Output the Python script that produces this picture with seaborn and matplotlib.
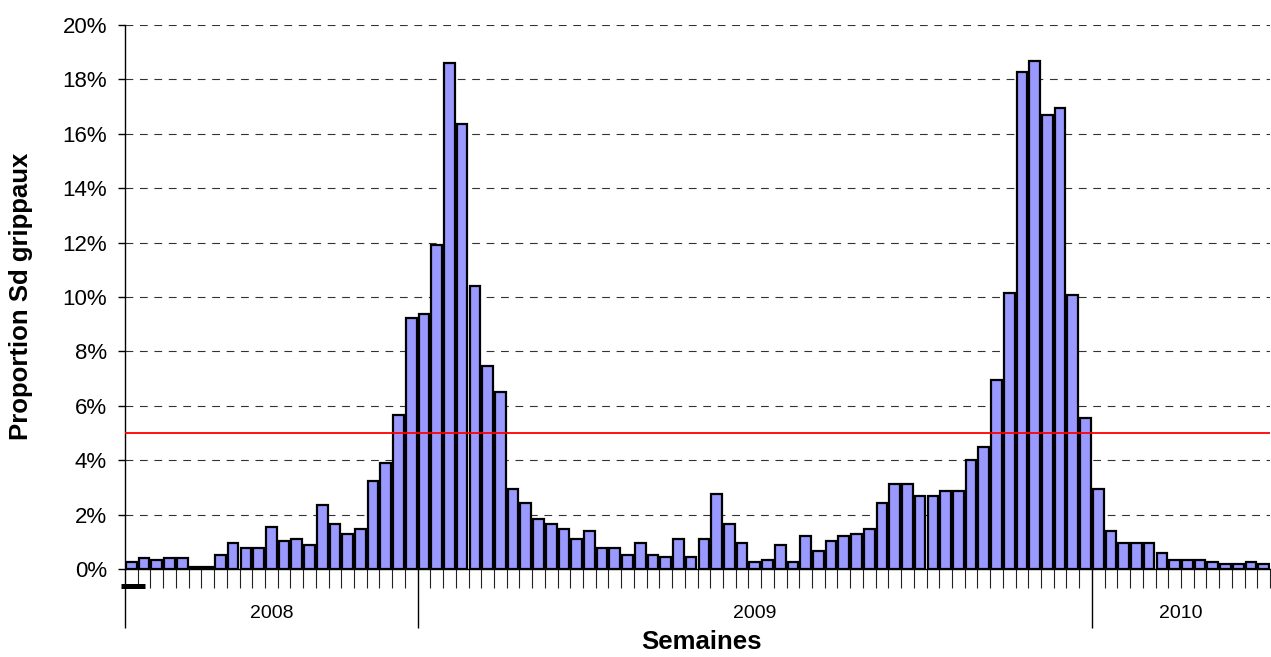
import numpy as np
import pandas as pd
import matplotlib
matplotlib.use("Agg")
import matplotlib.pyplot as plt
import matplotlib.transforms as mtransforms
from matplotlib.ticker import FixedLocator, FuncFormatter
import seaborn as sns

# ---------------- data ----------------
years = ["2008", "2009", "2010"]
weeks_2008 = list(range(30, 53))   # 23 weeks
weeks_2009 = list(range(1, 54))    # 53 weeks
weeks_2010 = list(range(1, 15))    # 14 weeks

prop_2008 = [0.26, 0.41, 0.34, 0.41, 0.41, 0.07, 0.07, 0.52, 0.95, 0.77,
             0.77, 1.56, 1.04, 1.11, 0.87, 2.34, 1.65, 1.29, 1.46, 3.22,
             3.90, 5.65, 9.21]
prop_2009 = [9.37, 11.90, 18.60, 16.35, 10.42, 7.47, 6.52, 2.94, 2.41, 1.82,
             1.65, 1.48, 1.12, 1.38, 0.77, 0.77, 0.52, 0.95, 0.52, 0.43,
             1.12, 0.43, 1.12, 2.77, 1.65, 0.95, 0.26, 0.34, 0.87, 0.26,
             1.21, 0.68, 1.04, 1.21, 1.29, 1.46, 2.41, 3.11, 3.11, 2.68,
             2.68, 2.85, 2.85, 3.99, 4.50, 6.96, 10.16, 18.26, 18.69, 16.69,
             16.95, 10.08, 5.55]
prop_2010 = [2.94, 1.39, 0.95, 0.95, 0.95, 0.60, 0.34, 0.34, 0.34, 0.26,
             0.18, 0.18, 0.26, 0.18]

threshold = 5.0
y_ticks = [0, 2, 4, 6, 8, 10, 12, 14, 16, 18, 20]

ylabel = "Proportion Sd grippaux"
xlabel = "Semaines"

# ---------------- frame ----------------
week_lists = [weeks_2008, weeks_2009, weeks_2010]
prop_lists = [prop_2008, prop_2009, prop_2010]
rows = []
for yr, wk, pr in zip(years, week_lists, prop_lists):
    for w, p in zip(wk, pr):
        rows.append({"year": yr, "week": w, "label": f"{yr}-S{w:02d}", "prop": p})
df = pd.DataFrame(rows)

sns.set_theme(style="white")
plt.rcParams['font.family'] = ['Liberation Sans', 'DejaVu Sans']
plt.rcParams['text.color'] = 'black'
plt.rcParams['axes.labelcolor'] = 'black'
plt.rcParams['xtick.color'] = 'black'
plt.rcParams['ytick.color'] = 'black'

W, H = 1271, 657
fig = plt.figure(figsize=(W / 100, H / 100), dpi=100)
ax = fig.add_axes([125 / W, 1 - 569 / H, 1145 / W, 544 / H])

sns.barplot(data=df, x="label", y="prop", order=list(df["label"]),
            color="#9999FF", saturation=1, edgecolor="black",
            linewidth=1.6, width=0.84, ax=ax, zorder=2)

n = len(df)
ax.set_xlim(-0.5, n - 0.5)
ax.set_ylim(0, 20)

# gridlines
ax.set_yticks(y_ticks)
ax.yaxis.set_major_formatter(FuncFormatter(lambda v, p: f"{int(round(v))}%"))
ax.yaxis.grid(True, linestyle=(0, (7, 6)), color="#333333", linewidth=0.8)
ax.xaxis.grid(False)
ax.set_axisbelow(True)

# threshold line
ax.axhline(threshold, color="#FF0000", linewidth=1.3, zorder=5)

# spines
for s in ["top", "right"]:
    ax.spines[s].set_visible(False)
for s in ["left", "bottom"]:
    ax.spines[s].set_color("black")
    ax.spines[s].set_linewidth(1.0)

# x ticks: year boundaries (major, long) and week boundaries (minor)
sizes = [len(w) for w in week_lists]
bounds = np.concatenate([[0], np.cumsum(sizes)]) - 0.5
major = list(bounds[:-1])
minor = [k - 0.5 for k in range(1, n + 1) if (k - 0.5) not in major]
ax.xaxis.set_major_locator(FixedLocator(major))
ax.xaxis.set_minor_locator(FixedLocator(minor))
ax.tick_params(axis="x", which="major", direction="out", length=42.5,
               width=1.0, color="black", labelbottom=False, bottom=True)
ax.tick_params(axis="x", which="minor", direction="out", length=13.7,
               width=0.8, color="#222222", labelbottom=False, bottom=True)
ax.tick_params(axis="y", which="major", direction="out", length=5,
               width=1.0, color="black", labelcolor="black", labelsize=16,
               pad=8, left=True)

# year labels
trans = mtransforms.blended_transform_factory(ax.transData, ax.transAxes)
for yr, a, b in zip(years, bounds[:-1], bounds[1:]):
    ax.text((a + b) / 2, -0.0818, yr, transform=trans, ha="center",
            va="center", fontsize=14, color="black")

# small dark mark under the axis origin (as in reference)
ax.plot([-0.0035, 0.0175], [-0.032, -0.032], transform=ax.transAxes,
        color="black", linewidth=3.6, clip_on=False, solid_capstyle="butt")

ax.set_xlabel(xlabel, fontsize=18.5, fontweight="bold", color="black")
ax.xaxis.set_label_coords(0.5035, -0.112)
ax.set_ylabel(ylabel, fontsize=18.5, fontweight="bold", color="black")
ax.yaxis.set_label_coords(-0.0803, 0.502)

fig.savefig("out.png", dpi=100)
